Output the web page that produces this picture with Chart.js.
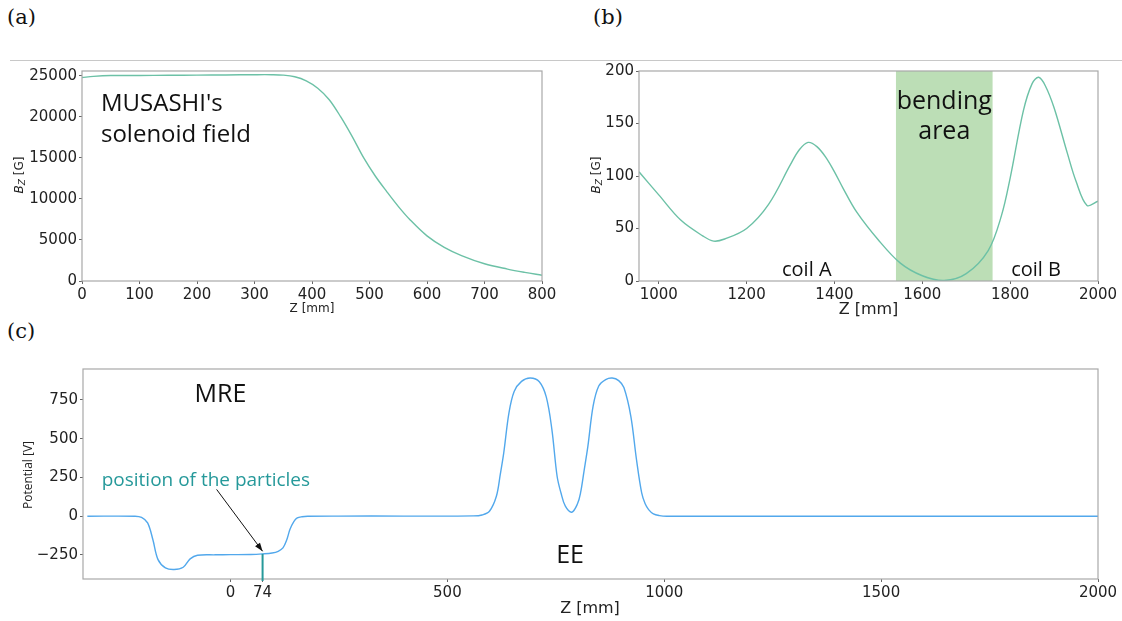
<!DOCTYPE html>
<html>
<head>
<meta charset="utf-8">
<script src="https://cdn.jsdelivr.net/npm/chart.js@4.4.1/dist/chart.umd.min.js"></script>
<style>
  body { margin: 0; background: #fff; width: 1122px; height: 621px; position: relative; overflow: hidden; }
  canvas { position: absolute; }
  .lbl { position: absolute; font-family: "DejaVu Serif", serif; font-size: 21px; color: #111; }
  #sep { position: absolute; left: 10px; right: 0; top: 60px; height: 1px; background: #c8c8c8; }
</style>
</head>
<body>
<div class="lbl" style="left:7px;top:5px">(a)</div>
<div class="lbl" style="left:593px;top:5px">(b)</div>
<div class="lbl" style="left:7px;top:319px">(c)</div>
<div id="sep"></div>
<canvas id="chartA" width="560" height="260" style="left:0;top:60px"></canvas>
<canvas id="chartB" width="562" height="260" style="left:560px;top:60px"></canvas>
<canvas id="chartC" width="1122" height="271" style="left:0;top:350px"></canvas>
<script>
// (a) MUSASHI solenoid field
const zA = [0, 20, 50, 100, 150, 200, 250, 300, 330, 350, 370, 390, 410, 430, 450, 470, 490, 510, 530, 550, 570, 600, 630, 660, 700, 740, 770, 800];
const bA = [24800, 24950, 25050, 25050, 25080, 25100, 25120, 25150, 25150, 25100, 24900, 24400, 23500, 22100, 20000, 17600, 15000, 12800, 10900, 9100, 7500, 5500, 4100, 3100, 2100, 1450, 1050, 700];
const xTicksA = [0, 100, 200, 300, 400, 500, 600, 700, 800];
const yTicksA = [0, 5000, 10000, 15000, 20000, 25000];

// (b) coils A / B
const zB = [955, 1000, 1050, 1100, 1125, 1150, 1200, 1250, 1300, 1320, 1340, 1360, 1380, 1400, 1420, 1450, 1500, 1550, 1600, 1650, 1700, 1750, 1780, 1800, 1830, 1850, 1865, 1880, 1900, 1930, 1950, 1975, 2000];
const bB = [104, 82, 58, 43, 38, 40, 50, 73, 111, 125, 132, 128, 118, 104, 88, 66, 39, 17, 5, 0.5, 7, 29, 62, 98, 162, 188, 194, 186, 165, 122, 95, 72, 76];
const xTicksB = [1000, 1200, 1400, 1600, 1800, 2000];
const yTicksB = [0, 50, 100, 150, 200];
const bendArea = [1540, 1760];

// (c) potential
const zC = [-330, -220, -205, -191, -179, -167, -150, -130, -109, -93, -76, -35, 0, 47, 74, 96, 110, 121, 130, 137, 146, 154, 165, 178, 250, 400, 560, 580, 597, 613, 622, 630, 642, 654, 671, 691, 712, 728, 741, 753, 762, 772, 787, 800, 807, 815, 824, 836, 849, 865, 880, 895, 907, 923, 936, 948, 956, 964, 975, 989, 1006, 1200, 1500, 2000];
const vC = [0, 0, -8, -43, -150, -280, -333, -344, -329, -275, -252, -249, -248, -247, -243, -237, -226, -204, -150, -86, -35, -11, -3, 0, 1, 1, 2, 8, 32, 129, 270, 409, 667, 805, 870, 892, 868, 770, 559, 258, 150, 65, 26, 80, 150, 290, 452, 710, 840, 882, 892, 875, 830, 645, 366, 150, 80, 43, 15, 4, 0, 0, 0, 0];
const xTicksC = [0, 74, 500, 1000, 1500, 2000];
const yTicksC = [-250, 0, 250, 500, 750];
const particleZ = 74;

Chart.defaults.font.family = "DejaVu Sans";
Chart.defaults.color = "#222";

function pts(xs, ys) {
  return xs.map((x, i) => ({ x: x, y: ys[i] }));
}

function fixedTicks(list) {
  return function (scale) {
    scale.ticks = list.map((v) => ({ value: v }));
  };
}

function fmt(v) {
  return String(v).replace("-", "\u2212");
}

function axis(min, max, list, fit) {
  return {
    type: "linear",
    min: min,
    max: max,
    afterBuildTicks: fixedTicks(list),
    afterFit: fit,
    border: { display: false },
    grid: { drawOnChartArea: false, drawTicks: true, tickLength: 3, color: "#666" },
    ticks: { font: { size: 15 }, color: "#222", padding: 2, maxRotation: 0, autoSkip: false, callback: fmt },
  };
}

// Cadre du graphique
const frame = {
  id: "frame",
  afterDatasetsDraw(chart) {
    const a = chart.chartArea;
    const c = chart.ctx;
    c.save();
    c.strokeStyle = "#a8a8a8";
    c.lineWidth = 1.2;
    c.strokeRect(a.left, a.top, a.right - a.left, a.bottom - a.top);
    c.restore();
  },
};

function text(c, s, x, y, font, color, align) {
  c.font = font;
  c.fillStyle = color || "#111";
  c.textAlign = align || "left";
  c.textBaseline = "alphabetic";
  c.fillText(s, x, y);
}

// Titre vertical avec indice
function yTitle(c, parts, x, y) {
  c.save();
  c.translate(x, y);
  c.rotate(-Math.PI / 2);
  let w = 0;
  parts.forEach((p) => { c.font = p.font; w += c.measureText(p.t).width; });
  let pos = -w / 2;
  c.fillStyle = "#222";
  c.textBaseline = "middle";
  c.textAlign = "left";
  parts.forEach((p) => {
    c.font = p.font;
    c.fillText(p.t, pos, p.dy || 0);
    pos += c.measureText(p.t).width;
  });
  c.restore();
}

const bzParts = [
  { t: "B", font: "italic 12px DejaVu Sans" },
  { t: "Z", font: "italic 9px DejaVu Sans", dy: 3 },
  { t: " [G]", font: "12px DejaVu Sans" },
];

function lineSet(data, color) {
  return {
    data: data,
    borderColor: color,
    borderWidth: 1.4,
    pointRadius: 0,
    fill: false,
    tension: 0.35,
  };
}

function baseOptions(padding) {
  return {
    responsive: false,
    animation: false,
    layout: { padding: padding },
    plugins: { legend: { display: false }, tooltip: { enabled: false } },
  };
}

// Graphique (a)
const optsA = baseOptions({ top: 10, right: 18, left: 0, bottom: 0 });
optsA.scales = {
  x: axis(0, 800, xTicksA, (s) => { s.height = 39; }),
  y: axis(0, 25600, yTicksA, (s) => { s.width = 82; }),
};
new Chart(document.getElementById("chartA"), {
  type: "line",
  data: { datasets: [lineSet(pts(zA, bA), "#6cc1a6")] },
  options: optsA,
  plugins: [
    frame,
    {
      id: "annA",
      afterDraw(chart) {
        const c = chart.ctx;
        const x = chart.scales.x;
        const y = chart.scales.y;
        text(c, "MUSASHI's", x.getPixelForValue(33), y.getPixelForValue(20760), "24px 'Open Sans'");
        text(c, "solenoid field", x.getPixelForValue(33), y.getPixelForValue(17000), "24px 'Open Sans'");
        text(c, "Z [mm]", (chart.chartArea.left + chart.chartArea.right) / 2, 252, "12px DejaVu Sans", "#222", "center");
        yTitle(c, bzParts, 20, 115);
      },
    },
  ],
});

// Graphique (b)
const optsB = baseOptions({ top: 10, right: 24, left: 0, bottom: 0 });
optsB.scales = {
  x: axis(955, 2000, xTicksB, (s) => { s.height = 39; }),
  y: axis(0, 200, yTicksB, (s) => { s.width = 79; }),
};
new Chart(document.getElementById("chartB"), {
  type: "line",
  data: { datasets: [lineSet(pts(zB, bB), "#6cc1a6")] },
  options: optsB,
  plugins: [
    frame,
    {
      id: "bend",
      beforeDatasetsDraw(chart) {
        const c = chart.ctx;
        const a = chart.chartArea;
        const x = chart.scales.x;
        const x0 = x.getPixelForValue(bendArea[0]);
        const x1 = x.getPixelForValue(bendArea[1]);
        c.save();
        c.fillStyle = "#bcdeb6";
        c.fillRect(x0, a.top, x1 - x0, a.bottom - a.top);
        c.restore();
      },
      afterDraw(chart) {
        const c = chart.ctx;
        const x = chart.scales.x;
        const y = chart.scales.y;
        const mid = (bendArea[0] + bendArea[1]) / 2;
        text(c, "bending", x.getPixelForValue(mid), y.getPixelForValue(163.8), "25px 'Open Sans'", "#111", "center");
        text(c, "area", x.getPixelForValue(mid), y.getPixelForValue(135.2), "25px 'Open Sans'", "#111", "center");
        text(c, "coil A", x.getPixelForValue(1337), y.getPixelForValue(5), "20px 'Open Sans'", "#111", "center");
        text(c, "coil B", x.getPixelForValue(1859), y.getPixelForValue(5), "20px 'Open Sans'", "#111", "center");
        text(c, "Z [mm]", (chart.chartArea.left + chart.chartArea.right) / 2, 254, "16px DejaVu Sans", "#222", "center");
        yTitle(c, bzParts, 37, 115);
      },
    },
  ],
});

// Graphique (c)
const optsC = baseOptions({ top: 19, right: 24, left: 0, bottom: 0 });
optsC.scales = {
  x: axis(-340, 2000, xTicksC, (s) => { s.height = 42; }),
  y: axis(-405, 950, yTicksC, (s) => { s.width = 83; }),
};
new Chart(document.getElementById("chartC"), {
  type: "line",
  data: { datasets: [lineSet(pts(zC, vC), "#52a8ec")] },
  options: optsC,
  plugins: [
    frame,
    {
      id: "annC",
      afterDraw(chart) {
        const c = chart.ctx;
        const a = chart.chartArea;
        const x = chart.scales.x;
        const y = chart.scales.y;
        // Ligne de position des particules
        const px = x.getPixelForValue(particleZ);
        c.save();
        c.strokeStyle = "#26999a";
        c.lineWidth = 2;
        c.beginPath();
        c.moveTo(px, y.getPixelForValue(-243));
        c.lineTo(px, a.bottom + 2);
        c.stroke();
        // Flèche
        const tx = x.getPixelForValue(-32), ty = y.getPixelForValue(173);
        const hx = px, hy = y.getPixelForValue(-226);
        const ang = Math.atan2(hy - ty, hx - tx);
        c.strokeStyle = "#111";
        c.fillStyle = "#111";
        c.lineWidth = 1;
        c.beginPath();
        c.moveTo(tx, ty);
        c.lineTo(hx, hy);
        c.stroke();
        c.beginPath();
        c.moveTo(hx, hy);
        c.lineTo(hx - 9 * Math.cos(ang - 0.35), hy - 9 * Math.sin(ang - 0.35));
        c.lineTo(hx - 9 * Math.cos(ang + 0.35), hy - 9 * Math.sin(ang + 0.35));
        c.closePath();
        c.fill();
        c.restore();
        text(c, "MRE", x.getPixelForValue(-23), y.getPixelForValue(737), "25px 'Open Sans'", "#111", "center");
        text(c, "EE", x.getPixelForValue(783), y.getPixelForValue(-301), "25px 'Open Sans'", "#111", "center");
        text(c, "position of the particles", x.getPixelForValue(-297), y.getPixelForValue(192), "19px 'Open Sans'", "#26999a");
        text(c, "Z [mm]", 590, 263, "16px DejaVu Sans", "#222", "center");
        yTitle(c, [{ t: "Potential [V]", font: "12px 'Open Sans'" }], 29, 125);
      },
    },
  ],
});
</script>
</body>
</html>
